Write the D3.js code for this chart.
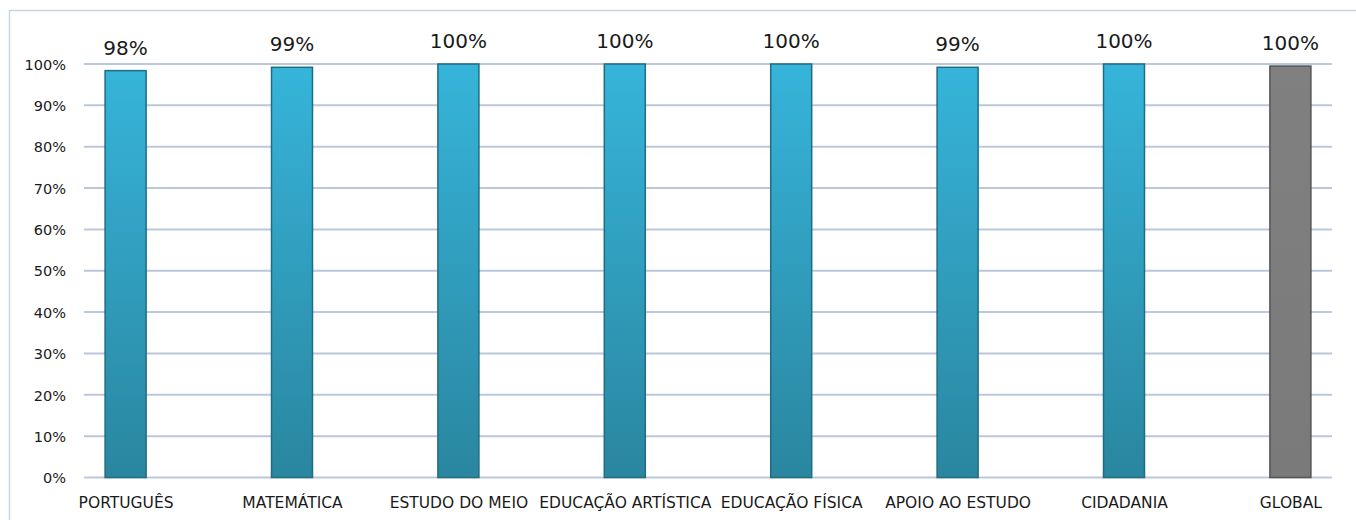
<!DOCTYPE html>
<html>
<head>
<meta charset="utf-8">
<script src="https://cdn.jsdelivr.net/npm/d3@7"></script>
<style>
  html, body { margin: 0; padding: 0; background: #ffffff; }
  svg { display: block; }
  text { font-family: "DejaVu Sans", sans-serif; fill: #1a1a1a; }
</style>
</head>
<body>
<svg id="chart" width="1356" height="520"></svg>
<script>
const categories = ["PORTUGUÊS", "MATEMÁTICA", "ESTUDO DO MEIO", "EDUCAÇÃO ARTÍSTICA", "EDUCAÇÃO FÍSICA", "APOIO AO ESTUDO", "CIDADANIA", "GLOBAL"];
const values = [0.984, 0.992, 1.0, 1.0, 1.0, 0.992, 1.0, 0.995];
const highlight = ["GLOBAL"];
const yTicks = [0, 0.1, 0.2, 0.3, 0.4, 0.5, 0.6, 0.7, 0.8, 0.9, 1.0];

const svg = d3.select("#chart");
const W = 1356, H = 520;
const mLeft = 84, mRight = 1332, mTop = 64, mBottom = 477.5;

const defs = svg.append("defs");
const gBlue = defs.append("linearGradient").attr("id", "gBlue").attr("x1", 0).attr("y1", 0).attr("x2", 0).attr("y2", 1);
gBlue.append("stop").attr("offset", "0%").attr("stop-color", "#36b4da");
gBlue.append("stop").attr("offset", "100%").attr("stop-color", "#2a869f");
const gGray = defs.append("linearGradient").attr("id", "gGray").attr("x1", 0).attr("y1", 0).attr("x2", 0).attr("y2", 1);
gGray.append("stop").attr("offset", "0%").attr("stop-color", "#808080");
gGray.append("stop").attr("offset", "100%").attr("stop-color", "#7a7a7a");

// outer border
svg.append("rect")
  .attr("x", 9.5).attr("y", 10.5)
  .attr("width", W + 20).attr("height", H + 20)
  .attr("fill", "none").attr("stroke", "#c9d5e4").attr("stroke-width", 1.5);

const x = d3.scalePoint().domain(categories).range([mLeft, mRight]).padding(0.25);
const y = d3.scaleLinear().domain([0, 1]).range([mBottom, mTop]);

// gridlines
svg.append("g").selectAll("line").data(yTicks).join("line")
  .attr("x1", mLeft).attr("x2", mRight)
  .attr("y1", d => y(d)).attr("y2", d => y(d))
  .attr("stroke", "#bac8da").attr("stroke-width", 2);

// y axis labels
const yAxis = d3.axisLeft(y).tickValues(yTicks).tickFormat(d3.format(".0%")).tickSize(0).tickPadding(0);
const ya = svg.append("g").attr("transform", "translate(66,0)").call(yAxis);
ya.select(".domain").remove();
ya.selectAll("text").attr("font-family", "DejaVu Sans").attr("font-size", "14.5px").attr("fill", "#1a1a1a").attr("dy", "0.36em");

// bars
const bw = 41;
svg.append("g").selectAll("rect").data(categories).join("rect")
  .attr("x", d => x(d) - bw / 2)
  .attr("y", (d, i) => y(values[i]))
  .attr("width", bw)
  .attr("height", (d, i) => y(0) - y(values[i]))
  .attr("fill", d => highlight.includes(d) ? "url(#gGray)" : "url(#gBlue)")
  .attr("stroke", d => highlight.includes(d) ? "#555555" : "#1f6c83")
  .attr("stroke-width", 1.5);

// data labels
svg.append("g").selectAll("text").data(categories).join("text")
  .attr("x", d => x(d))
  .attr("y", (d, i) => y(values[i]) - 16)
  .attr("text-anchor", "middle")
  .attr("font-size", "20px")
  .text((d, i) => Math.round(values[i] * 100) + "%");

// x axis labels
const xAxis = d3.axisBottom(x).tickSize(0).tickPadding(0);
const xa = svg.append("g").attr("transform", "translate(0,508)").call(xAxis);
xa.select(".domain").remove();
xa.selectAll("text").attr("font-family", "DejaVu Sans").attr("font-size", "15.5px").attr("fill", "#1a1a1a").attr("dy", "0");
</script>
</body>
</html>
